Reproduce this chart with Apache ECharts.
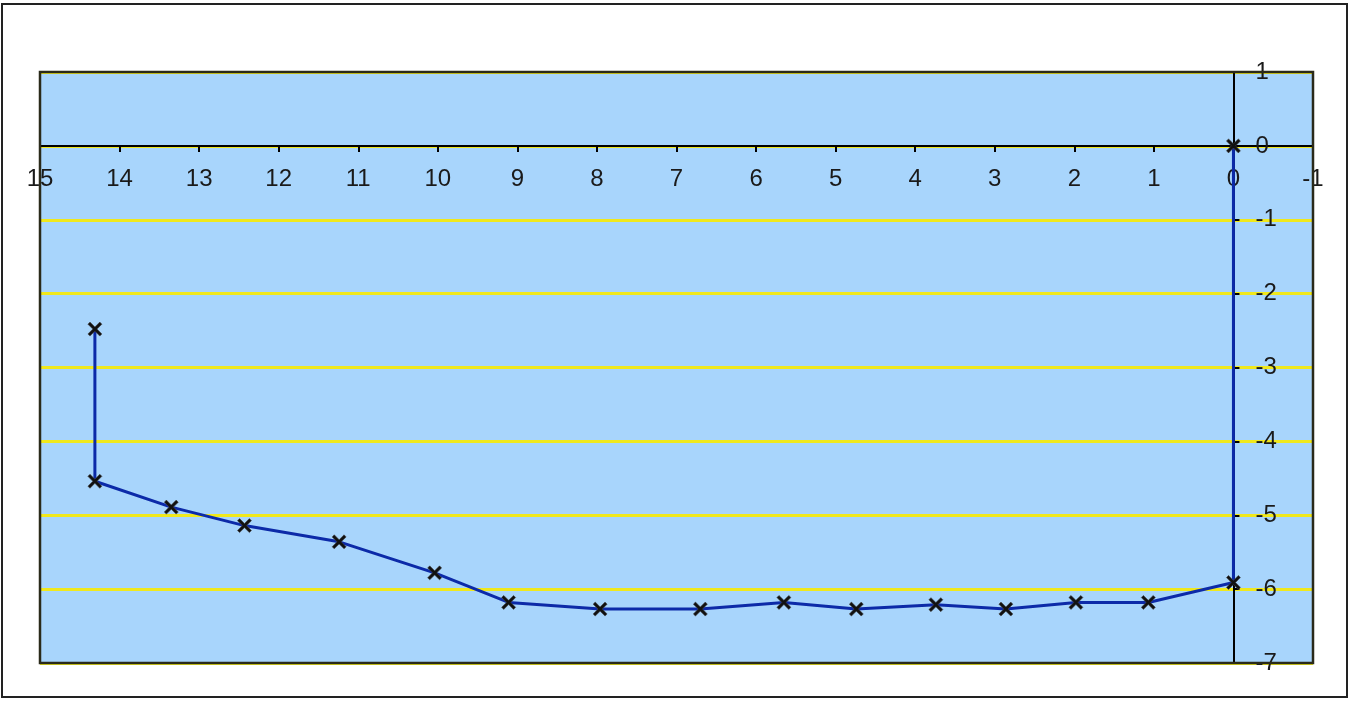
<!DOCTYPE html>
<html>
<head>
<meta charset="utf-8">
<script src="https://cdn.jsdelivr.net/npm/echarts@6/dist/echarts.min.js"></script>
<style>
html,body{margin:0;padding:0;background:#fff;}
#chart{width:1352px;height:704px;}
</style>
</head>
<body>
<div id="chart"></div>
<script>
// Data
const xValues = [14.31, 14.31, 13.35, 12.43, 11.24, 10.04, 9.11, 7.96, 6.70, 5.65, 4.74, 3.74, 2.86, 1.98, 1.07, 0, 0];
const yValues = [-2.48, -4.54, -4.89, -5.14, -5.36, -5.78, -6.18, -6.27, -6.27, -6.18, -6.27, -6.21, -6.27, -6.18, -6.18, -5.91, 0];
const xTicks = {min: -1, max: 15, interval: 1};
const yTicks = {min: -7, max: 1, interval: 1};

const points = xValues.map((x, i) => [x, yValues[i]]);

const G = {left: 40, right: 39, top: 72, bottom: 41, w: 1352, h: 704};
const plotW = G.w - G.left - G.right;
const plotH = G.h - G.top - G.bottom;
// axis crossing offsets (x axis at y=0, y axis at x=0) derived from the scales
const xAxisOffset = -plotH * (0 - yTicks.min) / (yTicks.max - yTicks.min);
const yAxisOffset = -plotW * (0 - xTicks.min) / (xTicks.max - xTicks.min);

const chart = echarts.init(document.getElementById('chart'));
const labelFont = {fontFamily: 'Liberation Sans, Arial, sans-serif', fontSize: 24, color: '#1a1a1a'};

chart.setOption({
  animation: false,
  backgroundColor: '#fff',
  graphic: [{
    type: 'rect',
    shape: {x: 2, y: 4, width: 1345, height: 693},
    style: {fill: 'none', stroke: '#222', lineWidth: 2},
    silent: true,
    z: 0
  }, {
    type: 'rect',
    shape: {x: G.left, y: G.top, width: plotW, height: plotH},
    style: {fill: 'none', stroke: '#2a2a1a', lineWidth: 2.5},
    silent: true,
    z: 50
  }],
  grid: {
    left: G.left, right: G.right, top: G.top, bottom: G.bottom,
    show: true,
    backgroundColor: '#a8d5fc',
    borderWidth: 0
  },
  xAxis: {
    type: 'value',
    position: 'bottom',
    offset: xAxisOffset,
    min: xTicks.min, max: xTicks.max, interval: xTicks.interval,
    inverse: true,
    axisLine: {show: true, onZero: false, lineStyle: {color: '#000', width: 2}},
    axisTick: {show: true, length: 6, lineStyle: {color: '#000', width: 2}},
    axisLabel: Object.assign({margin: 21, showMinLabel: true, showMaxLabel: true}, labelFont),
    splitLine: {show: false},
    z: 4
  },
  yAxis: {
    type: 'value',
    position: 'right',
    offset: yAxisOffset,
    min: yTicks.min, max: yTicks.max, interval: yTicks.interval,
    axisLine: {show: true, onZero: false, lineStyle: {color: '#000', width: 2}},
    axisTick: {show: true, length: 6, lineStyle: {color: '#000', width: 2}},
    axisLabel: Object.assign({margin: 22, padding: [6, 0, 0, 0], showMinLabel: true, showMaxLabel: true}, labelFont),
    splitLine: {show: true, lineStyle: {color: '#f0e81c', width: 3}},
    z: 4
  },
  series: [{
    type: 'line',
    data: points,
    symbol: 'path://M0,1.5 L1.5,0 L5,3.5 L8.5,0 L10,1.5 L6.5,5 L10,8.5 L8.5,10 L5,6.5 L1.5,10 L0,8.5 L3.5,5 Z',
    symbolSize: 14,
    itemStyle: {color: '#111', borderColor: '#444', borderWidth: 0.6},
    lineStyle: {color: '#0c2aa8', width: 3},
    z: 5
  }]
});
</script>
</body>
</html>
